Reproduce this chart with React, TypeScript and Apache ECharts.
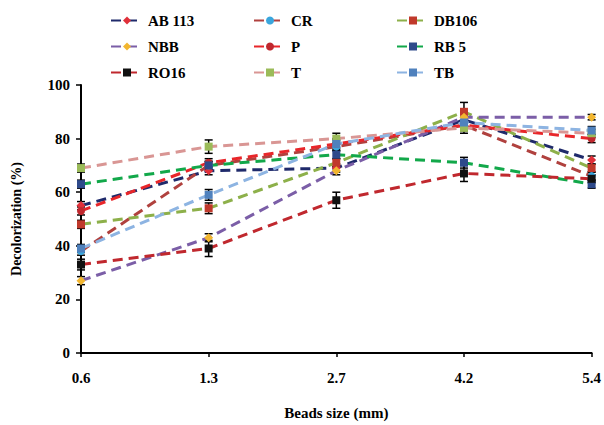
import React, { useEffect, useRef } from "react";
import * as echarts from "echarts";

const categories = ["0.6", "1.3", "2.7", "4.2", "5.4"];
const yTicks = [0, 20, 40, 60, 80, 100];

const seriesNames = ["AB 113", "CR", "DB106", "NBB", "P", "RB 5", "RO16", "T", "TB"];
const ab113 = [55, 68, 69, 87, 72];
const cr = [38, 70, 77, 85, 66];
const db106 = [48, 54, 71, 90, 69];
const nbb = [27, 43, 68, 88, 88];
const pSeries = [53, 71, 78, 85, 80];
const rb5 = [63, 70, 74, 71, 63];
const ro16 = [33, 39, 57, 67, 65];
const tSeries = [69, 77, 80, 84, 82];
const tb = [39, 59, 78, 86, 83];

const ab113Err = [1.5, 1.5, 1.5, 2, 1.5];
const crErr = [1.5, 1.5, 1.5, 2, 1.5];
const db106Err = [1.5, 2, 1.5, 3.5, 1.5];
const nbbErr = [1.5, 1.5, 1.5, 2, 1];
const pErr = [1.5, 1.5, 1.5, 2, 1.5];
const rb5Err = [1.5, 1.5, 1.5, 2, 1.5];
const ro16Err = [2, 3, 3, 3, 1.5];
const tErr = [1.5, 2.5, 2, 2, 1.5];
const tbErr = [1.5, 2, 2, 2, 1.5];

const lineColors = ["#1F2A6B", "#B0413E", "#8DB04A", "#7B5EA7", "#E8262A", "#12A84A", "#C0282E", "#D99694", "#8DB4E2"];
const markerColors = ["#E0303A", "#3AA6DD", "#C0392B", "#F2B630", "#C0282E", "#2E4A8B", "#111111", "#9BBB59", "#4F81BD"];
const markerShapes = ["diamond", "circle", "rect", "diamond", "circle", "rect", "rect", "rect", "rect"];

const values = [ab113, cr, db106, nbb, pSeries, rb5, ro16, tSeries, tb];
const errors = [ab113Err, crErr, db106Err, nbbErr, pErr, rb5Err, ro16Err, tErr, tbErr];

const FONT = "Liberation Serif";

export default function App() {
  const ref = useRef<HTMLDivElement>(null);
  useEffect(() => {
    document.body.style.margin = "0";
    if (!ref.current) return;
    const chart = echarts.init(ref.current, null, { renderer: "svg" });

    const errData: number[][] = [];
    values.forEach((vals, si) => {
      vals.forEach((v, i) => {
        errData.push([i, v - errors[si][i], v + errors[si][i]]);
      });
    });

    const lineSeries = seriesNames.map((name, i) => ({
      name,
      type: "line",
      data: values[i],
      symbol: markerShapes[i],
      symbolSize: markerShapes[i] === "diamond" ? 9 : 8,
      showSymbol: true,
      lineStyle: { color: lineColors[i], width: 3, type: [10, 6] },
      itemStyle: { color: markerColors[i], borderColor: markerColors[i], borderWidth: 0 },
      z: 3,
    }));

    const legendCol = (names: string[], left: number) => ({
      orient: "vertical",
      left,
      top: 8,
      itemWidth: 32,
      itemHeight: 10,
      itemGap: 11,
      data: names,
      textStyle: { fontFamily: FONT, fontWeight: "bold", fontSize: 15, color: "#000" },
    });

    chart.setOption({
      animation: false,
      backgroundColor: "#fff",
      grid: { left: 81, right: 12, top: 85, bottom: 71 },
      legend: [
        legendCol(["AB 113", "NBB", "RO16"], 105),
        legendCol(["CR", "P", "T"], 248),
        legendCol(["DB106", "RB 5", "TB"], 391),
      ],
      xAxis: {
        type: "category",
        data: categories,
        boundaryGap: false,
        name: "Beads size (mm)",
        nameLocation: "middle",
        nameGap: 52,
        nameTextStyle: { fontFamily: FONT, fontWeight: "bold", fontSize: 15, color: "#000" },
        axisLine: { lineStyle: { color: "#000", width: 2 } },
        axisTick: { show: true, alignWithLabel: true, length: 4, lineStyle: { color: "#000", width: 1.5 } },
        axisLabel: { fontFamily: FONT, fontWeight: "bold", fontSize: 15, color: "#000", margin: 17 },
        splitLine: { show: false },
      },
      yAxis: {
        type: "value",
        min: yTicks[0],
        max: yTicks[yTicks.length - 1],
        interval: 20,
        name: "Decolorization (%)",
        nameLocation: "middle",
        nameGap: 58,
        nameRotate: 90,
        nameTextStyle: { fontFamily: FONT, fontWeight: "bold", fontSize: 14, color: "#000" },
        axisLine: { show: true, lineStyle: { color: "#000", width: 2 } },
        axisTick: { show: true, length: 5, lineStyle: { color: "#000", width: 1.5 } },
        axisLabel: { fontFamily: FONT, fontWeight: "bold", fontSize: 15, color: "#000", margin: 11 },
        splitLine: { show: false },
      },
      series: [
        {
          type: "custom",
          name: "errors",
          data: errData,
          z: 2,
          renderItem: (params: any, api: any) => {
            const x = api.value(0);
            const lo = api.coord([x, api.value(1)]);
            const hi = api.coord([x, api.value(2)]);
            const w = 4;
            const style = { stroke: "#000", lineWidth: 1.5 };
            return {
              type: "group",
              children: [
                { type: "line", shape: { x1: lo[0], y1: lo[1], x2: hi[0], y2: hi[1] }, style },
                { type: "line", shape: { x1: lo[0] - w, y1: lo[1], x2: lo[0] + w, y2: lo[1] }, style },
                { type: "line", shape: { x1: hi[0] - w, y1: hi[1], x2: hi[0] + w, y2: hi[1] }, style },
              ],
            };
          },
        },
        ...lineSeries,
      ],
    } as any);
    return () => chart.dispose();
  }, []);
  return <div ref={ref} style={{ width: 604, height: 425 }} />;
}
